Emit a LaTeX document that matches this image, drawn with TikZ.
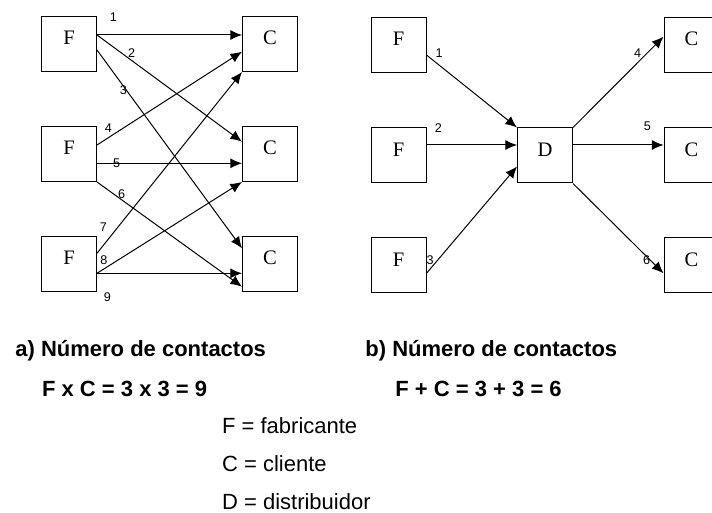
\documentclass[tikz,border=0pt]{standalone}
\usepackage{fontspec}
\setmainfont{Liberation Serif}
\setsansfont{Liberation Sans}
\usetikzlibrary{arrows.meta}

\begin{document}
\begin{tikzpicture}[x=0.5pt,y=-0.5pt,
  box/.style={draw,line width=0.5pt,minimum width=27.5pt,minimum height=27.5pt,text depth=6pt,font=\fontsize{10.3}{12}\selectfont},
  link/.style={->,>={Latex[length=5.8pt,width=5pt]},line width=0.5pt},
  num/.style={inner sep=0pt,font=\sffamily\fontsize{6.3}{7}\selectfont},
  head/.style={inner sep=0pt,anchor=base west,font=\sffamily\bfseries\fontsize{11}{13}\selectfont},
  key/.style={inner sep=0pt,anchor=base west,font=\sffamily\fontsize{11}{13}\selectfont}]
\useasboundingbox (0,0) rectangle (712,513);

% a) sin distribuidor
\foreach \i/\y in {1/44,2/154,3/264}{
  \node[box] (fa\i) at (69,\y) {F};
  \node[box] (ca\i) at (270,\y) {C};
}
\draw[link] ([yshift=4.5pt]fa1.east) -- ([yshift=4.5pt]ca1.west);
\draw[link] ([yshift=4.5pt]fa1.east) -- ([yshift=6.15pt]ca2.west);
\draw[link] ([yshift=-3pt]fa1.east) -- ([yshift=7.85pt]ca3.west);
\draw[link] ([yshift=4.5pt]fa2.east) -- ([yshift=-3.85pt]ca1.west);
\draw[link] ([yshift=-4.65pt]fa2.east) -- ([yshift=-4.65pt]ca2.west);
\draw[link] (fa2.south east) -- ([yshift=-11.35pt]ca3.west);
\draw[link] ([yshift=5.35pt]fa3.east) -- (ca1.south west);
\draw[link] ([yshift=-4.65pt]fa3.east) -- (ca2.south west);
\draw[link] ([yshift=-4.65pt]fa3.east) -- ([yshift=-4.65pt]ca3.west);
\node[num] (la1) at (113.3,16.7) {1};
\node[num] (la2) at (131.7,53.3) {2};
\node[num] (la3) at (123.3,90) {3};
\node[num] (la4) at (108.3,127.7) {4};
\node[num] (la5) at (116.7,163.3) {5};
\node[num] (la6) at (121.7,194.3) {6};
\node[num] (la7) at (103.3,226.7) {7};
\node[num] (la8) at (104,260) {8};
\node[num] (la9) at (107.3,296.7) {9};

% b) con distribuidor
\foreach \i/\y in {1/45,2/155.5,3/265.5}{
  \node[box] (fb\i) at (398.5,\y) {F};
  \node[box] (cb\i) at (691.5,\y) {C};
}
\node[box] (d) at (545,155.5) {D};
\draw[link] ([yshift=-5pt]fb1.east) -- (d.north west);
\draw[link] ([yshift=5.25pt]fb2.east) -- ([yshift=5.25pt]d.west);
\draw[link] ([yshift=-3.9pt]fb3.east) -- ([yshift=-5.5pt]d.west);
\draw[link] (d.north east) -- ([yshift=4.15pt]cb1.west);
\draw[link] ([yshift=5.25pt]d.east) -- ([yshift=5.25pt]cb2.west);
\draw[link] (d.south east) -- ([yshift=-3.9pt]cb3.west);
\node[num] (lb1) at (439,53.3) {1};
\node[num] (lb2) at (438.3,128.3) {2};
\node[num] (lb3) at (430,260) {3};
\node[num] (lb4) at (637.7,53.3) {4};
\node[num] (lb5) at (647.3,126.7) {5};
\node[num] (lb6) at (646.7,260) {6};

\node[head] (ta) at (15,356) {a) Número de contactos};
\node[head] (eqa) at (41.7,396) {F x C = 3 x 3 = 9};
\node[head] (tb) at (365,356) {b) Número de contactos};
\node[head] (eqb) at (395,396) {F + C = 3 + 3 = 6};
\node[key] (keyf) at (221.7,433) {F = fabricante};
\node[key] (keyc) at (221.7,471) {C = cliente};
\node[key] (keyd) at (221.7,509) {D = distribuidor};
\end{tikzpicture}
\end{document}
